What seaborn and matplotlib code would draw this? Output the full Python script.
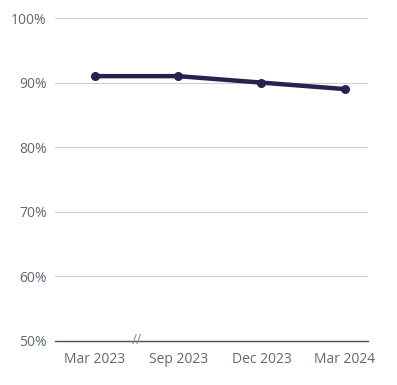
import numpy as np
import matplotlib
matplotlib.use("Agg")
import matplotlib.pyplot as plt
import matplotlib.transforms as mtransforms
import seaborn as sns

# data
dates = ["Mar 2023", "Sep 2023", "Dec 2023", "Mar 2024"]
share = [91, 91, 90, 89]
y_ticks = [50, 60, 70, 80, 90, 100]

sns.set_style("white")
plt.rcParams['font.family'] = ['Open Sans', 'DejaVu Sans']

TEXT = '#5f6873'
LINE = '#27224f'

fig = plt.figure(figsize=(3.97, 3.85), dpi=100)
ax = fig.add_axes([55 / 397, 44 / 385, 313 / 397, 323 / 385])

pos = np.arange(len(dates))
sns.lineplot(x=pos, y=share, ax=ax, color=LINE, linewidth=3.2,
             marker='o', markersize=6.5, markeredgewidth=0, zorder=3)

ax.set_xlim(-0.48, len(dates) - 1 + 0.28)
ax.set_ylim(50, 100)
ax.set_xticks(pos)
ax.set_xticklabels(dates)
ax.set_yticks(y_ticks)
ax.set_yticklabels([f"{v}%" for v in y_ticks])

ax.grid(axis='y', color='#cfcfcf', linewidth=0.8)
ax.set_axisbelow(True)
for s in ['top', 'right', 'left']:
    ax.spines[s].set_visible(False)
ax.spines['bottom'].set_color('#4b5057')
ax.spines['bottom'].set_linewidth(1.0)

ax.tick_params(axis='x', length=5, width=1, color='#c4c4c4', pad=3,
               labelsize=10, labelcolor=TEXT, direction='out')
ax.tick_params(axis='y', length=0, pad=6, labelsize=10, labelcolor=TEXT)

# axis break marker between first and second date
trans = mtransforms.blended_transform_factory(ax.transData, ax.transAxes)
ax.text(0.5, 0.0, "//", transform=trans, ha='center', va='center',
        fontsize=10, color='#8a8f96')

ax.set_xlabel('')
ax.set_ylabel('')

fig.savefig('out.png', dpi=100)
